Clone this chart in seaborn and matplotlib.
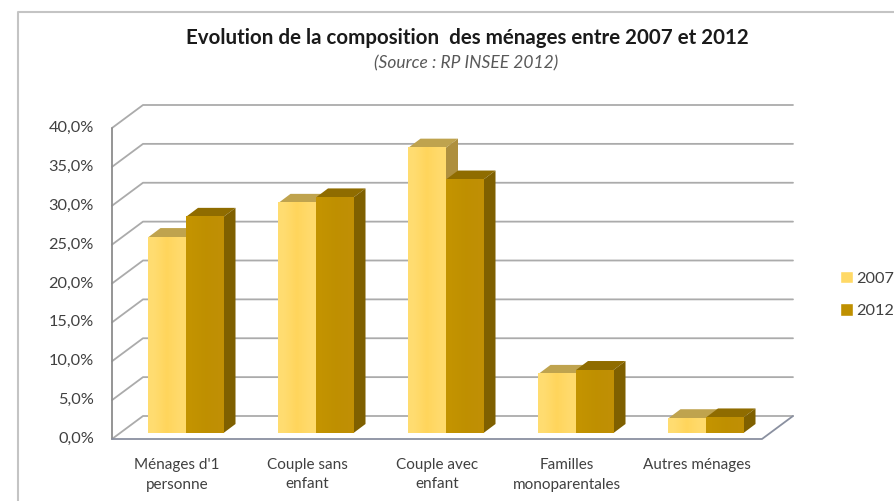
import matplotlib
matplotlib.use("Agg")
import matplotlib.pyplot as plt
import pandas as pd
import seaborn as sns
from matplotlib.colors import LinearSegmentedColormap
from matplotlib.lines import Line2D
from matplotlib.patches import Polygon
from matplotlib.transforms import ScaledTranslation

categories = ["Ménages d'1\npersonne", "Couple sans\nenfant", "Couple avec\nenfant",
              "Familles\nmonoparentales", "Autres ménages"]
values_2007 = [25.2, 29.6, 36.7, 7.6, 1.9]
values_2012 = [27.8, 30.3, 32.6, 8.1, 2.0]
y_ticks = [0, 5, 10, 15, 20, 25, 30, 35, 40]

W, H = 894, 501
DPI = 100

df = pd.DataFrame({"cat": categories, "2007": values_2007, "2012": values_2012})
long_df = df.melt(id_vars="cat", var_name="annee", value_name="part")

sns.set_style("white")
plt.rcParams["font.family"] = ["Lato", "DejaVu Sans"]

fig = plt.figure(figsize=(W / DPI, H / DPI), dpi=DPI)
# the axes is the plane of the bars' front faces
ax = fig.add_axes([121 / W, 1 - 433 / H, 650 / W, 311 / H])

colors = {"2007": "#FFD966", "2012": "#BF9000"}
top_colors = {"2007": "#BFA34E", "2012": "#8F6C00"}
side_colors = {"2007": "#AE8F3E", "2012": "#7F6000"}
shades = {"2007": ["#FFDC70", "#FFD55C", "#FFDA6C"], "2012": ["#C39300", "#BF9000", "#C08F04"]}

sns.barplot(data=long_df, x="cat", y="part", hue="annee", palette=colors,
            width=0.577, gap=0, saturation=1, linewidth=0, ax=ax, zorder=4, legend=False)
ax.set_xlabel("")
ax.set_ylabel("")
sns.despine(ax=ax, left=True, bottom=True)

# pixel -> data steps, for the fake perspective
px_x = 5 / 650
px_y = 40 / 311


def shift(dx, dy):
    return dx * px_x, dy * px_y


back_dx, back_dy = shift(22, 17)
front_dx, front_dy = shift(-9, -6)
bar_dx, bar_dy = shift(12, 9)

# walls
grid_col = "#ABABAB"
x0, x1 = -0.5, 4.5
for t in y_ticks:
    ax.plot([x0 + front_dx, x0 + back_dx, x1 + back_dx],
            [t + front_dy, t + back_dy, t + back_dy],
            color=grid_col, lw=1.3, clip_on=False, zorder=1)
    ax.text(x0 + front_dx - 18 * px_x, t + front_dy, f"{t:.1f}%".replace(".", ","),
            ha="right", va="center", fontsize=11.7, color="#404040")
ax.plot([x0 + front_dx, x0 + front_dx], [front_dy, 40 + front_dy],
        color="#8C8C8C", lw=1.3, clip_on=False, zorder=1)
ax.plot([x0 + front_dx, x1 + front_dx, x1 + back_dx],
        [front_dy, front_dy, back_dy],
        color="#8A90A0", lw=1.3, clip_on=False, zorder=1)

# top and side of each bar, built from the bars seaborn drew
for k, (annee, container) in enumerate(zip(["2007", "2012"], ax.containers)):
    cmap = LinearSegmentedColormap.from_list(annee, shades[annee])
    for bar in container:
        xl, xr = bar.get_x(), bar.get_x() + bar.get_width()
        h = bar.get_height()
        ax.add_patch(Polygon([(xl, h), (xr, h), (xr + bar_dx, h + bar_dy), (xl + bar_dx, h + bar_dy)],
                             closed=True, fc=top_colors[annee], ec="none",
                             clip_on=False, zorder=2 + k * 0.2))
        ax.add_patch(Polygon([(xr, 0), (xr + bar_dx, bar_dy), (xr + bar_dx, h + bar_dy), (xr, h)],
                             closed=True, fc=side_colors[annee], ec="none",
                             clip_on=False, zorder=2.1 + k * 0.2))
        # soft left-right shading on the front face
        ax.imshow([[0, 0.5, 1]], cmap=cmap, extent=(xl, xr, 0, h), aspect="auto",
                  interpolation="bilinear", clip_on=False, zorder=5)

ax.set_xlim(x0, x1)
ax.set_ylim(0, 40)
ax.set_yticks([])
ax.tick_params(axis="x", length=0, pad=18, labelsize=11, labelcolor="#404040")
for lab in ax.get_xticklabels():
    lab.set_transform(lab.get_transform() + ScaledTranslation(-9 / DPI, 0, fig.dpi_scale_trans))
    lab.set_linespacing(1.5)

# legend
handles = [plt.Rectangle((0, 0), 1, 1, fc=colors[k]) for k in ["2007", "2012"]]
fig.legend(handles, ["2007", "2012"], loc="center left", frameon=False,
           bbox_to_anchor=(840 / W, 1 - 294.5 / H), fontsize=11.7, labelcolor="#404040",
           handlelength=0.8, handleheight=0.8, handletextpad=0.22, labelspacing=1.1,
           borderpad=0, borderaxespad=0)

fig.text(467 / W, 1 - 38 / H, "Evolution de la composition  des ménages entre 2007 et 2012",
         ha="center", va="center", fontsize=14.8, fontweight="bold", color="#1a1a1a")
fig.text(466 / W, 1 - 63 / H, "(Source : RP INSEE 2012)", ha="center", va="center",
         fontsize=12.5, style="italic", color="#595959")

# chart frame, only top and left show
frame = "#C4C4C4"
fig.add_artist(Line2D([18 / W, 18 / W, 1], [0, 1 - 12 / H, 1 - 12 / H], color=frame, lw=1.5))

fig.savefig("out.png", dpi=DPI)
